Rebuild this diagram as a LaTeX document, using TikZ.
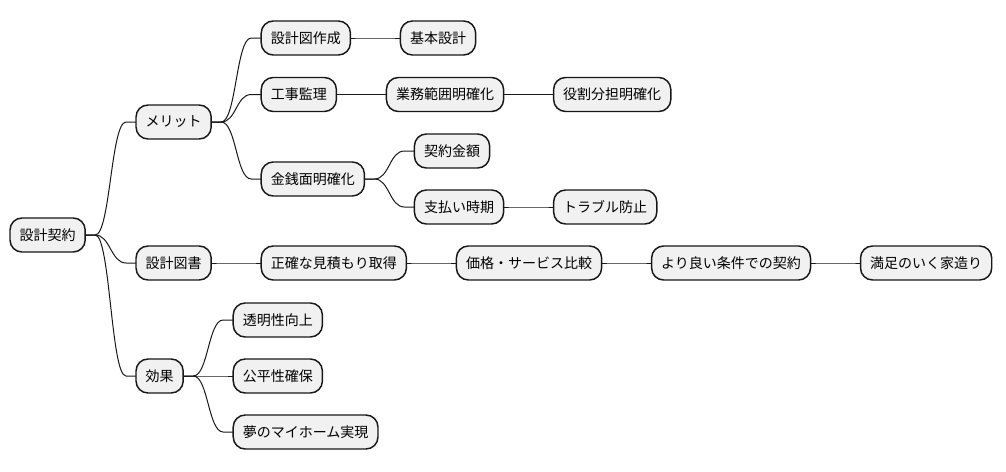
\documentclass[tikz,border=0pt]{standalone}
\usepackage{fontspec}
\setmainfont{Noto Sans CJK JP}
\usetikzlibrary{calc}
\definecolor{nodefill}{HTML}{F1F1F1}
\definecolor{nodeline}{HTML}{181818}
\begin{document}
\begin{tikzpicture}[x=0.75pt,y=-0.75pt,
  box/.style={draw=nodeline, fill=nodefill, line width=1.1pt, rounded corners=9pt,
    minimum height=25.5pt, inner xsep=7.2pt, inner ysep=0pt, outer sep=0pt, anchor=west,
    font=\fontsize{10.5pt}{12pt}\selectfont, text=black},
  nxt/.style={box, xshift=37.5pt},
  mmlink/.style={to path={-- ($(\tikztostart)+(10,0)$) .. controls ($(\tikztostart)+(25,0)$) and ($(\tikztotarget)+(-25,0)$) .. ($(\tikztotarget)+(-10,0)$) -- (\tikztotarget)}},
  conn/.style={draw=nodeline, line width=0.75pt}]
\useasboundingbox (0,0) rectangle (1006,471);
\node[box] (root) at (10,235) {設計契約};
\node[box] (m) at (136,122) {メリット};
\node[box] (z) at (136,263) {設計図書};
\node[box] (k) at (136,376) {効果};
% メリット
\node[nxt] (m1) at (m.east |- 0,38) {設計図作成};
\node[nxt] (m1a) at (m1.east |- 0,38) {基本設計};
\node[nxt] (m2) at (m.east |- 0,94.5) {工事監理};
\node[nxt] (m2a) at (m2.east |- 0,94.5) {業務範囲明確化};
\node[nxt] (m2b) at (m2a.east |- 0,94.5) {役割分担明確化};
\node[nxt] (m3) at (m.east |- 0,179) {金銭面明確化};
\node[nxt] (m3a) at (m3.east |- 0,151) {契約金額};
\node[nxt] (m3b) at (m3.east |- 0,207) {支払い時期};
\node[nxt] (m3c) at (m3b.east |- 0,207) {トラブル防止};
% 設計図書
\node[nxt] (z1) at (z.east |- 0,263) {正確な見積もり取得};
\node[nxt] (z2) at (z1.east |- 0,263) {価格・サービス比較};
\node[nxt] (z3) at (z2.east |- 0,263) {より良い条件での契約};
\node[nxt] (z4) at (z3.east |- 0,263) {満足のいく家造り};
% 効果
\node[nxt] (k1) at (k.east |- 0,320) {透明性向上};
\node[nxt] (k2) at (k.east |- 0,376) {公平性確保};
\node[nxt] (k3) at (k.east |- 0,432) {夢のマイホーム実現};
% connectors
\draw[conn] (root.east) to[mmlink] (m.west);
\draw[conn] (root.east) to[mmlink] (z.west);
\draw[conn] (root.east) to[mmlink] (k.west);
\draw[conn] (m.east) to[mmlink] (m1.west);
\draw[conn] (m.east) to[mmlink] (m2.west);
\draw[conn] (m.east) to[mmlink] (m3.west);
\draw[conn] (m1.east) to[mmlink] (m1a.west);
\draw[conn] (m2.east) to[mmlink] (m2a.west);
\draw[conn] (m2a.east) to[mmlink] (m2b.west);
\draw[conn] (m3.east) to[mmlink] (m3a.west);
\draw[conn] (m3.east) to[mmlink] (m3b.west);
\draw[conn] (m3b.east) to[mmlink] (m3c.west);
\draw[conn] (z.east) to[mmlink] (z1.west);
\draw[conn] (z1.east) to[mmlink] (z2.west);
\draw[conn] (z2.east) to[mmlink] (z3.west);
\draw[conn] (z3.east) to[mmlink] (z4.west);
\draw[conn] (k.east) to[mmlink] (k1.west);
\draw[conn] (k.east) to[mmlink] (k2.west);
\draw[conn] (k.east) to[mmlink] (k3.west);
\end{tikzpicture}
\end{document}
